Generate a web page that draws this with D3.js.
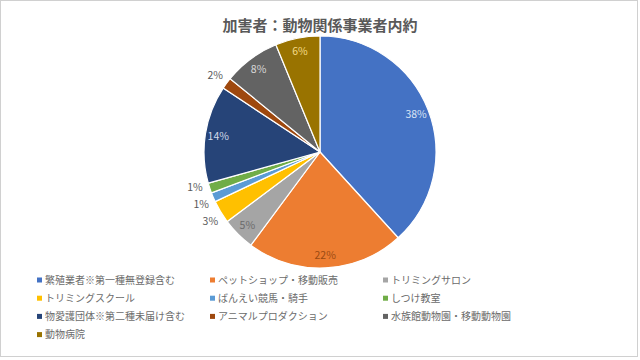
<!DOCTYPE html>
<html><head><meta charset="utf-8">
<script src="https://cdn.jsdelivr.net/npm/d3@7"></script>
<style>
html,body{margin:0;padding:0;background:#fff;}
svg{display:block;font-family:"Noto Sans CJK JP","Noto Sans",sans-serif;}
</style></head>
<body>
<svg id="chart" width="640" height="360"></svg>
<script>
const title = "加害者：動物関係事業者内約";
const categories = ["繁殖業者※第一種無登録含む","ペットショップ・移動販売","トリミングサロン","トリミングスクール","ばんえい競馬・騎手","しつけ教室","物愛護団体※第二種未届け含む","アニマルプロダクション","水族館動物園・移動動物園","動物病院"];
const values = [38.2, 21.9, 4.6, 3.2, 1.3, 1.4, 13.6, 1.6, 7.9, 6.2];
const colors = ["#4472C4","#ED7D31","#A5A5A5","#FFC000","#5B9BD5","#70AD47","#264478","#9E480E","#636363","#997300"];
const labelColors = ["#dbe4f4","#9a4a12","#6b6b6b","#595959","#595959","#595959","#d3dbea","#595959","#d9d9d9","#f5dc8a"];

const svg = d3.select("#chart");
svg.append("rect").attr("x",0.5).attr("y",0.5).attr("width",637).attr("height",356)
  .attr("fill","#fff").attr("stroke","#d0d0d0").attr("stroke-width",1);

svg.append("text").attr("x",320).attr("y",31).attr("text-anchor","middle")
  .attr("font-size",15).attr("font-weight","bold").attr("fill","#595959").text(title);

const cx = 320, cy = 152, r = 116;
const total = d3.sum(values);
const pie = d3.pie().sort(null).value(d => d.v);
const data = pie(values.map((v,i)=>({v,i})));
const arc = d3.arc().innerRadius(0).outerRadius(r);
const inArc = d3.arc().innerRadius(103).outerRadius(103);
const outR = r + 14;
const outArc = d3.arc().innerRadius(outR).outerRadius(outR);

const g = svg.append("g").attr("transform",`translate(${cx},${cy})`);
g.selectAll("path.slice").data(data).join("path").attr("class","slice")
  .attr("d",arc).attr("fill",d=>colors[d.data.i]).attr("stroke","#fff").attr("stroke-width",1.2);

// label positions
const labels = data.map(d=>{
  const pct = d.data.v/total*100;
  const outside = pct < 4;
  const c = outside ? outArc.centroid(d) : inArc.centroid(d);
  return {d, outside, x:c[0], y:c[1], side: c[0] < 0 ? -1 : 1};
});
// relax overlapping outside labels vertically
const minGap = 17;
for (let it=0; it<60; it++) {
  [-1,1].forEach(side=>{
    const grp = labels.filter(l=>l.outside && l.side===side).sort((a,b)=>a.y-b.y);
    for (let k=1;k<grp.length;k++){
      const a=grp[k-1], b=grp[k];
      const gap=b.y-a.y;
      if (gap<minGap){ const s=(minGap-gap)/2; a.y-=s; b.y+=s; }
    }
  });
}
labels.filter(l=>l.outside).forEach(l=>{
  const yy = Math.max(-outR+1, Math.min(outR-1, l.y));
  l.x = l.side*Math.sqrt(outR*outR - yy*yy);
});

g.selectAll("text.lbl").data(labels).join("text").attr("class","lbl")
  .attr("transform",l=>`translate(${l.x},${l.y})`)
  .attr("text-anchor","middle").attr("dy","0.35em")
  .attr("font-size",10.5).attr("fill",l=>labelColors[l.d.data.i])
  .text(l=>Math.round(l.d.data.v/total*100)+"%");

const legX = [37, 210, 383];
const legY0 = 280, legDy = 18.2;
const lg = svg.append("g");
categories.forEach((c,i)=>{
  const col = i % 3, row = Math.floor(i/3);
  const x = legX[col], y = legY0 + row*legDy;
  lg.append("rect").attr("x",x).attr("y",y-2.5).attr("width",5).attr("height",5).attr("fill",colors[i]);
  lg.append("text").attr("x",x+8).attr("y",y).attr("dy","0.35em")
    .attr("font-size",10).attr("fill","#6b6b6b").text(c);
});
</script>
</body></html>
